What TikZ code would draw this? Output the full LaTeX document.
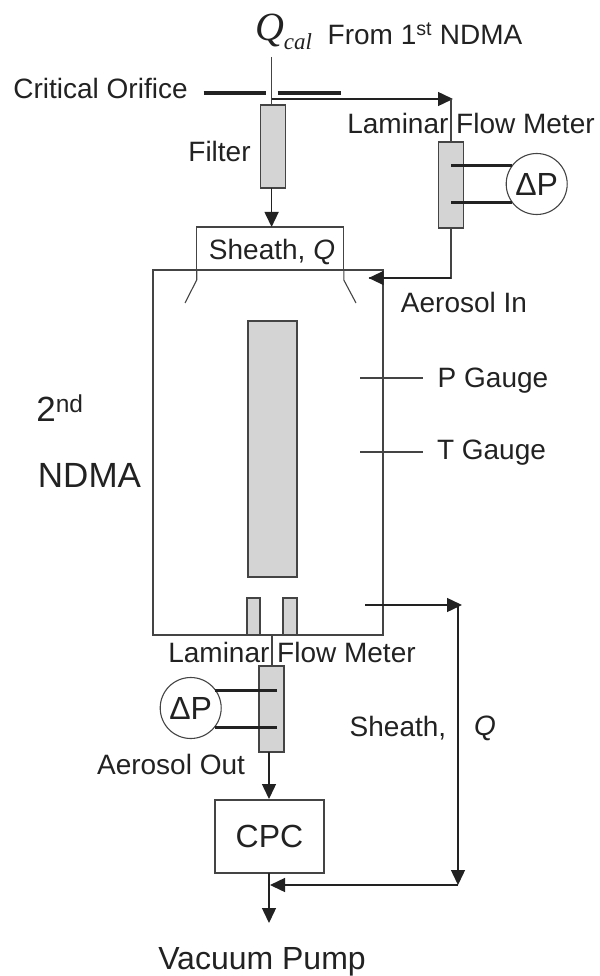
\documentclass[tikz,border=0pt]{standalone}
\usepackage{fontspec}
\setmainfont{Liberation Sans}
\newfontfamily\timesit[ItalicFont=Liberation Serif Italic]{Liberation Serif}
\usetikzlibrary{arrows.meta}
\definecolor{meter}{HTML}{D4D4D4}
\definecolor{ink}{HTML}{222222}
\definecolor{wall}{HTML}{444444}
\tikzset{every node/.style={inner sep=0pt,outer sep=0pt,text=ink}}
\tikzset{every edge/.style={draw=wall}}
\tikzset{tag/.style={font=\fontsize{28}{30}\selectfont}}
\tikzset{bigtag/.style={font=\fontsize{32}{34}\selectfont}}
\tikzset{hugetag/.style={font=\fontsize{35}{38}\selectfont}}
\tikzset{meterbox/.style={draw=wall,line width=1.1pt,fill=meter}}
\tikzset{plainbox/.style={draw=wall,line width=1.1pt}}
\tikzset{gauge/.style={draw=wall,line width=1.1pt,fill=white,shape=circle,minimum size=61pt,font=\fontsize{32}{34}\selectfont}}
\tikzset{flow/.style={draw=ink,line width=1.4pt,-{Triangle[length=15pt,width=14pt]}}}
\tikzset{tube/.style={draw=wall,line width=1.1pt}}
\tikzset{bar/.style={draw=ink,line width=3.3pt}}
\tikzset{tap/.style={draw=ink,line width=3pt}}

\begin{document}
\begin{tikzpicture}[x=1pt,y=-1pt,line width=1.1pt]
  \useasboundingbox (0,0) rectangle (599,976);

  \node (Sheathbox) [plainbox,minimum width=147pt,minimum height=43pt] at (270.3,248.5) {};
  \node (NDMAbox) [plainbox,minimum width=230pt,minimum height=365pt] at (268,452.5) {};
  \node (Column) [meterbox,minimum width=49pt,minimum height=256pt] at (272.5,449) {};
  \node (SlitA) [meterbox,minimum width=13pt,minimum height=37pt] at (253.5,616.5) {};
  \node (SlitB) [meterbox,minimum width=14pt,minimum height=37pt] at (290,616.5) {};
  \node (Filter) [meterbox,minimum width=25.7pt,minimum height=83pt] at (273,146.5) {};
  \node (MeterA) [meterbox,minimum width=24.5pt,minimum height=86pt] at (451,185) {};
  \node (MeterB) [meterbox,minimum width=25pt,minimum height=86pt] at (271.5,709) {};
  \node (CPC) [plainbox,bigtag,minimum width=109pt,minimum height=73pt] at (269.5,836.5) {CPC};
  \node (GaugeA) [gauge] at (536.7,184) {ΔP};
  \node (GaugeB) [gauge] at (190.7,708) {ΔP};

  \node (Qcal) at (283.5,32) {\timesit\fontsize{40}{42}\selectfont\itshape Q\raisebox{-9pt}{\fontsize{23}{25}\selectfont cal}};
  \node (From) [tag] at (425,34) {From 1\textsuperscript{st} NDMA};
  \node (Orifice) [tag] at (100.5,88) {Critical Orifice};
  \node (FilterText) [tag] at (219.5,151) {Filter};
  \node (LaminarA) [tag] at (471,123) {Laminar Flow Meter};
  \node (SheathIn) [tag] at (272,252) {Sheath, \textit{Q}};
  \node (AerosolIn) [tag] at (464,302) {Aerosol In};
  \node (PText) [tag] at (493,381) {P Gauge};
  \node (TText) [tag] at (491.5,453) {T Gauge};
  \node (Second) [hugetag] at (60,408) {2\textsuperscript{nd}};
  \node (NDMA) [hugetag] at (89.5,475) {NDMA};
  \node (LaminarB) [tag] at (292,652) {Laminar Flow Meter};
  \node (AerosolOut) [tag] at (171,764) {Aerosol Out};
  \node (SheathOut) [tag] at (398,728) {Sheath,};
  \node (QOut) [tag] at (485,728) {\textit{Q}};
  \node (Pump) [bigtag] at (262,962) {Vacuum Pump};

  \coordinate (Inlet) at (271.6,57);
  \coordinate (Split) at (271.6,99);
  \coordinate (FilterTop) at (271.6,105);
  \coordinate (FilterOut) at (271.6,188);
  \coordinate (SheathTop) at (271.6,227);
  \coordinate (OrificeA) at (203.6,93);
  \coordinate (OrificeB) at (265.5,93);
  \coordinate (OrificeC) at (277.7,93);
  \coordinate (OrificeD) at (341,93);
  \coordinate (MeterAIn) at (451,99);
  \coordinate (MeterATip) at (453,99);
  \coordinate (MeterATop) at (451,142);
  \coordinate (MeterABottom) at (451,228);
  \coordinate (AerosolTip) at (368.6,278);
  \coordinate (TapA) at (451,166);
  \coordinate (TapB) at (451,203);
  \coordinate (TapC) at (277,690);
  \coordinate (TapD) at (277,727);
  \coordinate (HoodA) at (196.7,270);
  \coordinate (HoodB) at (196.7,280);
  \coordinate (HoodC) at (185,303);
  \coordinate (HoodD) at (343.8,270);
  \coordinate (HoodE) at (343.8,280);
  \coordinate (HoodF) at (356,303);
  \coordinate (ProbeP) at (360,378);
  \coordinate (ProbeQ) at (423,378);
  \coordinate (ProbeT) at (360,452);
  \coordinate (ProbeU) at (423,452);
  \coordinate (BaseOut) at (272,635);
  \coordinate (MeterBTop) at (272,666);
  \coordinate (MeterBOut) at (269,752);
  \coordinate (CPCTop) at (269,799);
  \coordinate (CPCOut) at (269,873);
  \coordinate (PumpTip) at (269,923);
  \coordinate (Bleed) at (365,605);
  \coordinate (BleedTip) at (462,605);
  \coordinate (RiseTop) at (458,605);
  \coordinate (RiseBottom) at (458,885);
  \coordinate (Return) at (458,885);
  \coordinate (ReturnTip) at (270,885);

  \path (Inlet) edge (FilterTop);
  \path (OrificeA) edge[bar] (OrificeB);
  \path (OrificeC) edge[bar] (OrificeD);
  \path (Split) edge[flow] (MeterATip);
  \path (MeterAIn) edge (MeterATop);
  \path (FilterOut) edge[flow] (SheathTop);
  \draw[tube] (MeterABottom) |- (AerosolTip);
  \draw[flow] (MeterABottom |- AerosolTip) -- (AerosolTip);
  \draw[tube] (HoodA) -- (HoodB) -- (HoodC);
  \draw[tube] (HoodD) -- (HoodE) -- (HoodF);
  \path (ProbeP) edge (ProbeQ);
  \path (ProbeT) edge (ProbeU);

  \path (TapA) edge[tap] (TapA -| GaugeA.144);
  \path (TapB) edge[tap] (TapB -| GaugeA.216);
  \path (TapC) edge[tap] (TapC -| GaugeB.36);
  \path (TapD) edge[tap] (TapD -| GaugeB.324);

  \path (BaseOut) edge (MeterBTop);
  \path (MeterBOut) edge[flow] (CPCTop);
  \path (CPCOut) edge[flow] (PumpTip);
  \path (Bleed) edge[flow] (BleedTip);
  \path (RiseTop) edge[flow] (RiseBottom);
  \path (Return) edge[flow] (ReturnTip);
\end{tikzpicture}
\end{document}
